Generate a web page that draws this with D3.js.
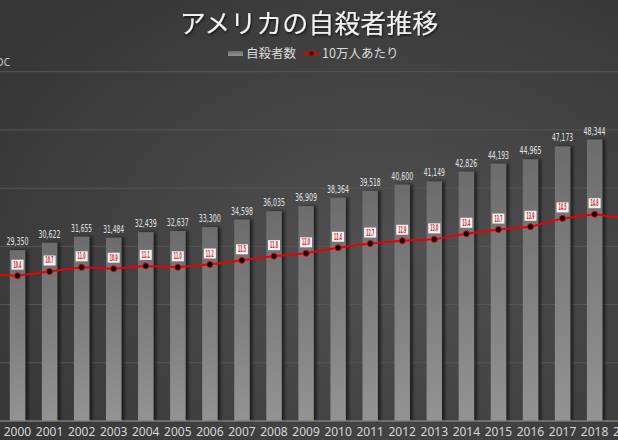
<!DOCTYPE html>
<html>
<head>
<meta charset="utf-8">
<script src="https://cdn.jsdelivr.net/npm/d3@7"></script>
<style>
  html, body { margin: 0; padding: 0; background: #3c3c3c; overflow: hidden; }
  svg { display: block; }
</style>
</head>
<body>
<div class="chart"></div>
<script>
// data (1999 and 2019 sit just outside the visible frame)
var years = [1999, 2000, 2001, 2002, 2003, 2004, 2005, 2006, 2007, 2008, 2009,
             2010, 2011, 2012, 2013, 2014, 2015, 2016, 2017, 2018, 2019];
var deaths = [29199, 29350, 30622, 31655, 31484, 32439, 32637, 33300, 34598, 36035, 36909,
              38364, 39518, 40600, 41149, 42826, 44193, 44965, 47173, 48344, 47511];
var rates = [10.5, 10.4, 10.7, 11.0, 10.9, 11.1, 11.0, 11.2, 11.5, 11.8, 12.0,
             12.4, 12.7, 12.9, 13.0, 13.4, 13.7, 13.9, 14.5, 14.8, 14.5];
var deathTicks = [0, 10000, 20000, 30000, 40000, 50000, 60000];

var title = "アメリカの自殺者推移";
var legendBars = "自殺者数";
var legendLine = "10万人あたり";
var source = "出典：CDC";

var div_width = 618;
var div_height = 440;

var svg = d3.select(".chart").append("svg")
    .attr("width", div_width)
    .attr("height", div_height);

var defs = svg.append("defs");

var bg = defs.append("radialGradient").attr("id", "bg")
    .attr("cx", "62%").attr("cy", "58%").attr("r", "75%");
bg.append("stop").attr("offset", "0%").attr("stop-color", "#515151");
bg.append("stop").attr("offset", "100%").attr("stop-color", "#363636");

var barGrad = defs.append("linearGradient").attr("id", "barGrad")
    .attr("x1", 0).attr("y1", 0).attr("x2", 0).attr("y2", 1);
barGrad.append("stop").attr("offset", "0%").attr("stop-color", "#6c6c6c");
barGrad.append("stop").attr("offset", "100%").attr("stop-color", "#939393");

var shadow = defs.append("filter").attr("id", "shadow")
    .attr("x", "-50%").attr("y", "-10%").attr("width", "200%").attr("height", "120%");
shadow.append("feDropShadow").attr("dx", 3).attr("dy", 0)
    .attr("stdDeviation", 1.5).attr("flood-color", "#000").attr("flood-opacity", 0.55);

var textShadow = defs.append("filter").attr("id", "textShadow");
textShadow.append("feDropShadow").attr("dx", 1).attr("dy", 1.5)
    .attr("stdDeviation", 1).attr("flood-color", "#000").attr("flood-opacity", 0.7);

svg.append("rect")
    .attr("width", div_width).attr("height", div_height)
    .attr("fill", "url(#bg)");

// scales
var x = d3.scaleBand()
    .domain(years)
    .range([-30.6, 642.7]);

var y = d3.scaleLinear().domain([0, 60000]).range([421, 71.7]);
var y2 = d3.scaleLinear().domain([0, 25]).range([421, 71.7]);

var barW = x.bandwidth() * 0.48;
function cx(yr) { return x(yr) + x.bandwidth() / 2; }

// gridlines
svg.append("g")
    .selectAll("line")
    .data(deathTicks.slice(1))
    .enter().append("line")
    .attr("x1", 0).attr("x2", div_width)
    .attr("y1", function (d) { return y(d); })
    .attr("y2", function (d) { return y(d); })
    .attr("stroke", "#575757")
    .attr("stroke-width", 1);

// bars
var rows = years.map(function (yr, i) { return { year: yr, deaths: deaths[i], rate: rates[i] }; });
// only the labels that fall inside the frame are shown in the picture
var shown = rows.filter(function (d) { return cx(d.year) - 12 > 0 && cx(d.year) + 12 < div_width; });

svg.append("g")
    .selectAll("rect")
    .data(rows)
    .enter().append("rect")
    .attr("x", function (d) { return cx(d.year) - barW / 2; })
    .attr("y", function (d) { return y(d.deaths); })
    .attr("width", barW)
    .attr("height", function (d) { return y(0) - y(d.deaths); })
    .attr("fill", "url(#barGrad)")
    .attr("filter", "url(#shadow)");

// bar value labels
svg.append("g")
    .selectAll("text")
    .data(shown)
    .enter().append("text")
    .attr("x", function (d) { return cx(d.year); })
    .attr("y", function (d) { return y(d.deaths) - 5; })
    .attr("text-anchor", "middle")
    .attr("font-family", "Liberation Sans Narrow, DejaVu Sans Condensed, sans-serif")
    .attr("font-size", 11)
    .attr("fill", "#e2e2e2")
    .attr("textLength", function (d) { return d3.format(",")(d.deaths).indexOf("1") >= 0 ? 21 : 22; })
    .attr("lengthAdjust", "spacingAndGlyphs")
    .text(function (d) { return d3.format(",")(d.deaths); });

// x axis
var xAxis = svg.append("g")
    .attr("transform", "translate(0," + y(0) + ")")
    .call(d3.axisBottom(x).tickSize(0).tickPadding(6).tickFormat(function (d) { return d; }));
xAxis.select(".domain").remove();
xAxis.append("line")
    .attr("x1", 0).attr("x2", div_width)
    .attr("stroke", "#7e7e7e").attr("stroke-width", 1.5);
xAxis.selectAll("text")
    .attr("font-family", "Noto Sans, sans-serif")
    .attr("font-size", 12)
    .attr("fill", "#d6d6d6");

// rate line
var line = d3.line()
    .x(function (d) { return cx(d.year); })
    .y(function (d) { return y2(d.rate); });

svg.append("path")
    .datum(rows)
    .attr("d", line)
    .attr("fill", "none")
    .attr("stroke", "#e8000b")
    .attr("stroke-width", 2);

svg.append("g")
    .selectAll("circle")
    .data(rows)
    .enter().append("circle")
    .attr("cx", function (d) { return cx(d.year); })
    .attr("cy", function (d) { return y2(d.rate); })
    .attr("r", 3)
    .attr("fill", "#000")
    .attr("stroke", "#e8000b")
    .attr("stroke-width", 1);

// rate labels
var rl = svg.append("g")
    .selectAll("g")
    .data(shown)
    .enter().append("g")
    .attr("transform", function (d) { return "translate(" + cx(d.year) + "," + (y2(d.rate) - 11) + ")"; });

rl.append("rect")
    .attr("x", -6).attr("y", -5)
    .attr("width", 12).attr("height", 10)
    .attr("fill", "#f4f4f4");

rl.append("text")
    .attr("y", 3)
    .attr("text-anchor", "middle")
    .attr("font-family", "Liberation Sans Narrow, DejaVu Sans Condensed, sans-serif")
    .attr("font-size", 8.5)
    .attr("font-weight", "bold")
    .attr("fill", "#e0202a")
    .attr("textLength", 8)
    .attr("lengthAdjust", "spacingAndGlyphs")
    .text(function (d) { return d.rate.toFixed(1); });

// title
svg.append("text")
    .attr("x", 309).attr("y", 33)
    .attr("text-anchor", "middle")
    .attr("font-family", "Noto Sans CJK JP, sans-serif")
    .attr("font-size", 26)
    .attr("fill", "#f2f2f2")
    .attr("filter", "url(#textShadow)")
    .text(title);

// legend
var legend = svg.append("g").attr("font-family", "Noto Sans CJK JP, sans-serif")
    .attr("font-size", 12.5).attr("fill", "#d9d9d9");
legend.append("rect")
    .attr("x", 228).attr("y", 51).attr("width", 15).attr("height", 5)
    .attr("fill", "url(#barGrad)");
legend.append("text").attr("x", 246).attr("y", 58).text(legendBars);
legend.append("line")
    .attr("x1", 303).attr("x2", 320).attr("y1", 53.5).attr("y2", 53.5)
    .attr("stroke", "#e8000b").attr("stroke-width", 2);
legend.append("circle")
    .attr("cx", 311.5).attr("cy", 53.5).attr("r", 2.5)
    .attr("fill", "#000").attr("stroke", "#e8000b");
legend.append("text").attr("x", 322).attr("y", 58).text(legendLine);

// source note (cut at the left edge)
svg.append("text")
    .attr("x", 10).attr("y", 65.5)
    .attr("text-anchor", "end")
    .attr("font-family", "Noto Sans, sans-serif")
    .attr("font-size", 10)
    .attr("fill", "#cfcfcf")
    .text(source);
</script>
</body>
</html>
